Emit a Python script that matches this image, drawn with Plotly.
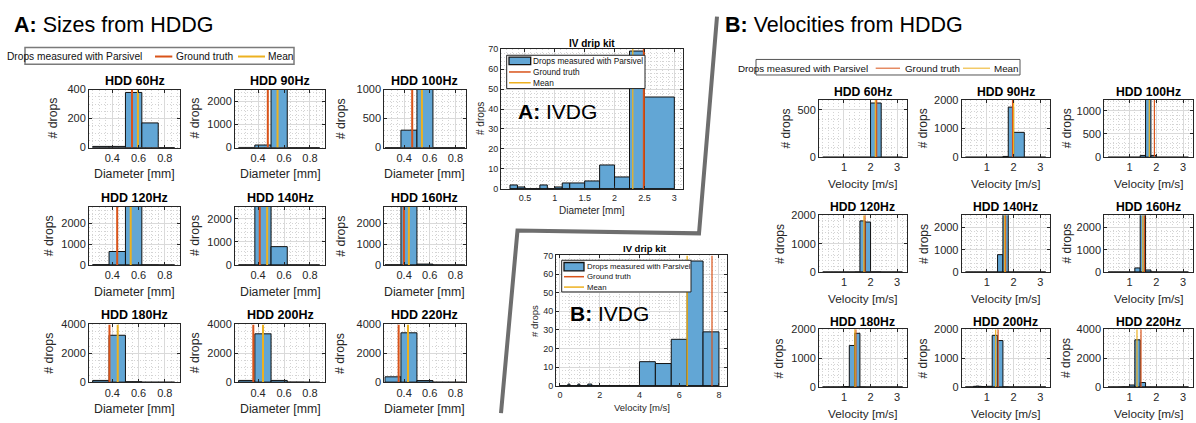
import plotly.graph_objects as go

W, H = 1196, 423
FONT = "Liberation Sans, Arial, Helvetica, sans-serif"
BAR = "rgb(98,166,213)"
RED = "#D95319"
YEL = "#EDB120"
GRID = "#DADADA"
MINOR = "#D4D4D4"
AX = "#262626"

# ---------------- DATA ----------------
hdd_names = ["HDD 60Hz", "HDD 90Hz", "HDD 100Hz", "HDD 120Hz", "HDD 140Hz",
             "HDD 160Hz", "HDD 180Hz", "HDD 200Hz", "HDD 220Hz"]

# Parsivel diameter class edges (mm) shown in the HDDG size histograms
size_edges = [0.25, 0.375, 0.5, 0.625, 0.75, 0.875]
size_60 = [8, 8, 380, 170, 0]
size_90 = [5, 110, 3200, 0, 0]
size_100 = [0, 300, 1300, 0, 0]
size_120 = [15, 650, 3100, 10, 0]
size_140 = [5, 3000, 800, 5, 0]
size_160 = [10, 3100, 50, 0, 0]
size_180 = [130, 3250, 40, 0, 0]
size_200 = [130, 3350, 130, 10, 0]
size_220 = [380, 3420, 120, 0, 0]
size_truth = [0.55, 0.475, 0.463, 0.437, 0.413, 0.398, 0.378, 0.363, 0.357]
size_mean = [0.595, 0.55, 0.539, 0.54, 0.47, 0.437, 0.441, 0.438, 0.43]

# Parsivel velocity class edges (m/s) shown in the HDDG velocity histograms
vel_edges = [0.2, 0.3, 0.4, 0.5, 0.6, 0.7, 0.8, 0.9, 1.0, 1.2, 1.4, 1.6, 1.8, 2.0, 2.4, 2.8, 3.2]
vel_60 = [0, 0, 0, 0, 0, 0, 0, 0, 0, 0, 0, 0, 0, 570, 0, 0]
vel_90 = [0, 0, 0, 0, 0, 0, 0, 0, 0, 0, 0, 30, 1750, 870, 0, 0]
vel_100 = [0, 0, 0, 0, 0, 0, 0, 0, 0, 0, 40, 1500, 40, 0, 0, 0]
vel_120 = [0, 0, 0, 0, 0, 0, 0, 0, 0, 0, 8, 1800, 1760, 10, 0, 0]
vel_140 = [0, 0, 0, 0, 0, 0, 0, 0, 0, 0, 780, 3000, 0, 0, 0, 0]
vel_160 = [0, 0, 0, 0, 0, 0, 0, 0, 0, 190, 3000, 100, 10, 0, 0, 0]
vel_180 = [0, 0, 0, 0, 0, 0, 0, 10, 20, 1440, 1860, 5, 0, 0, 0, 0]
vel_200 = [0, 0, 0, 30, 40, 30, 20, 20, 30, 1790, 1610, 10, 0, 0, 0, 0]
vel_220 = [0, 0, 0, 0, 10, 20, 20, 20, 150, 3270, 320, 0, 0, 0, 0, 0]
vel_truth = [2.23, 1.96, 1.93, 1.79, 1.70, 1.56, 1.45, 1.42, 1.43]
vel_mean = [2.18, 2.0, 1.74, 1.75, 1.67, 1.50, 1.41, 1.33, 1.28]

# IV drip kit
iv_size_edges = [0.25, 0.375, 0.5, 0.625, 0.75, 0.875, 1.0, 1.125, 1.25, 1.5, 1.75, 2.0, 2.25, 2.5, 3.0]
iv_size_counts = [2, 1, 0, 0, 2, 0, 1, 3, 3, 4, 12, 6, 69, 46]
iv_size_truth = 2.49
iv_size_mean = 2.305
iv_vel_edges = [0.0, 0.1, 0.2, 0.3, 0.4, 0.5, 0.6, 0.7, 0.8, 0.9, 1.0, 1.2, 1.4, 1.6, 1.8, 2.0,
                2.4, 2.8, 3.2, 3.6, 4.0, 4.8, 5.6, 6.4, 7.2, 8.0]
iv_vel_counts = [0, 0, 0, 0, 1, 0, 0, 0, 0, 1, 0, 0, 1, 0, 0, 0, 0, 0, 0, 0, 13, 12, 25, 67, 29]
iv_vel_truth = 7.65
iv_vel_mean = 6.4

size_counts = [size_60, size_90, size_100, size_120, size_140, size_160, size_180, size_200, size_220]
vel_counts = [vel_60, vel_90, vel_100, vel_120, vel_140, vel_160, vel_180, vel_200, vel_220]

# ---------------- LAYOUT CONFIG (pixels) ----------------
A_cols = [(89, 180), (235, 325), (384.3, 465.6)]
A_rows = [(86, 145.7), (206.7, 266.7), (327.7, 387.3)]
A_xr = [[0.222, 0.916], [0.222, 0.916], [0.245, 0.88]]
A_ylim = [400, 2520, 1000, 2780, 2520, 2780, 4000, 4000, 4000]
A_ydt = [200, 1000, 500, 1000, 1000, 1000, 2000, 2000, 2000]
A_title_y = [76.7, 197.7, 317.7]
A_xlab_y = [173.3, 294, 415]
A_ylab_x = [[53, 195, 340.7], [49.3, 195, 340.7], [49.3, 195, 340.7]]

B_cols = [(819, 906.7), (961.7, 1050), (1104.3, 1192.7)]
B_rows = [(96.7, 155.7), (215.3, 274), (332.7, 392.3)]
B_xr = [0.06, 3.36]
B_ylim = [602, 2000, 1230, 2000, 2530, 2530, 2000, 2000, 4000]
B_ydt = [500, 1000, 500, 1000, 1000, 1000, 1000, 1000, 2000]
B_title_y = [88.3, 206.7, 325.7]
B_xlab_y = [183.3, 301.5, 419.5]
B_ylab_x = [[786, 922.7, 1066.7], [779.3, 923.3, 1066.7], [779.3, 923.3, 1066.7]]


def px(x):
    return x / W


def py(y):
    return 1 - y / H


fig = go.Figure()
layout = dict(width=W, height=H, autosize=False, margin=dict(l=0, r=0, t=0, b=0),
              paper_bgcolor="white", plot_bgcolor="white", showlegend=False,
              barmode="overlay", font=dict(family=FONT, color=AX))
annotations = []
shapes = []

minor_of = {200: 50, 500: 100, 1000: 200, 2000: 500, 10: 2, 0.2: 0.05, 1: 0.2, 0.5: 0.1, 2: 0.5}


def axis_common(dtick, tfs):
    return dict(showline=True, linecolor=AX, linewidth=1, mirror="ticks", ticks="inside",
                ticklen=3, tickcolor=AX, tickwidth=1, dtick=dtick, tick0=0, showgrid=True,
                gridcolor=GRID, gridwidth=1, zeroline=False, fixedrange=True,
                tickfont=dict(family=FONT, size=tfs, color=AX),
                minor=dict(dtick=minor_of[dtick], tick0=0, showgrid=True, gridcolor=MINOR,
                           griddash="1px,2px", gridwidth=1, ticks=""))


def add_hist(idx, edges, counts, truth, mean, xbox, ybox, xr, yr, xdt, ydt, tfs,
             gt_w, mn_w, bar_lw=1.0):
    xa = "x" if idx == 1 else f"x{idx}"
    ya = "y" if idx == 1 else f"y{idx}"
    centers = [(edges[i] + edges[i + 1]) / 2 for i in range(len(counts))]
    widths = [edges[i + 1] - edges[i] for i in range(len(counts))]
    fig.add_trace(go.Scatter(x=[edges[0], edges[-1]], y=[0, 0], mode="lines",
                             line=dict(color="#111", width=bar_lw + 0.3), xaxis=xa, yaxis=ya,
                             hoverinfo="skip"))
    fig.add_trace(go.Bar(x=centers, y=counts, width=widths, xaxis=xa, yaxis=ya,
                         marker=dict(color=BAR, line=dict(color="#111", width=bar_lw))))
    fig.add_trace(go.Scatter(x=[truth, truth], y=[0, yr[1]], mode="lines",
                             line=dict(color=RED, width=gt_w), xaxis=xa, yaxis=ya))
    fig.add_trace(go.Scatter(x=[mean, mean], y=[0, yr[1]], mode="lines",
                             line=dict(color=YEL, width=mn_w), xaxis=xa, yaxis=ya))
    kx = "xaxis" if idx == 1 else f"xaxis{idx}"
    ky = "yaxis" if idx == 1 else f"yaxis{idx}"
    xd = axis_common(xdt, tfs)
    xd.update(domain=[px(xbox[0]), px(xbox[1])], range=xr, anchor=ya)
    yd = axis_common(ydt, tfs)
    yd.update(domain=[py(ybox[1]), py(ybox[0])], range=yr, anchor=xa)
    layout[kx] = xd
    layout[ky] = yd


def text(x, y, s, size, bold=False, color="black", angle=0, xanchor="center"):
    annotations.append(dict(x=px(x), y=py(y), xref="paper", yref="paper", text=(f"<b>{s}</b>" if bold else s),
                            showarrow=False, xanchor=xanchor, yanchor="middle", textangle=angle,
                            font=dict(family=FONT, size=size, color=color)))


idx = 1
# ---- Panel A: sizes ----
for k in range(9):
    r, c = divmod(k, 3)
    add_hist(idx, size_edges, size_counts[k], size_truth[k], size_mean[k],
             A_cols[c], A_rows[r], A_xr[c], [0, A_ylim[k]], 0.2, A_ydt[k], 11, 2, 2)
    xc = (A_cols[c][0] + A_cols[c][1]) / 2
    yc = (A_rows[r][0] + A_rows[r][1]) / 2
    text(xc, A_title_y[r], hdd_names[k], 12.5, bold=True)
    text(xc, A_xlab_y[r], "Diameter [mm]", 12.3, color=AX)
    text(A_ylab_x[r][c], yc, "# drops", 12.3, color=AX, angle=-90)
    idx += 1

# ---- Panel B: velocities ----
for k in range(9):
    r, c = divmod(k, 3)
    add_hist(idx, vel_edges, vel_counts[k], vel_truth[k], vel_mean[k],
             B_cols[c], B_rows[r], B_xr, [0, B_ylim[k]], 1, B_ydt[k], 11, 1.2, 1.2)
    xc = (B_cols[c][0] + B_cols[c][1]) / 2
    yc = (B_rows[r][0] + B_rows[r][1]) / 2
    text(xc, B_title_y[r], hdd_names[k], 12.2, bold=True)
    text(xc, B_xlab_y[r], "Velocity [m/s]", 11.8, color=AX)
    text(B_ylab_x[r][c], yc, "# drops", 12, color=AX, angle=-90)
    idx += 1

# ---- IV drip kit: sizes ----
add_hist(idx, iv_size_edges, iv_size_counts, iv_size_truth, iv_size_mean,
         (501, 683.3), (44.3, 188.3), [0.1, 3.15], [0, 70], 0.5, 10, 9, 2, 1.3)
idx += 1
text(592, 38.3, "IV drip kit", 10, bold=True)
text(480, 116.3, "# drops", 10, color=AX, angle=-90)
text(592, 210.7, "Diameter [mm]", 10, color=AX)

# ---- IV drip kit: velocities ----
add_hist(idx, iv_vel_edges, iv_vel_counts, iv_vel_truth, iv_vel_mean,
         (556, 727.3), (256.7, 391), [-0.2, 8.42], [0, 70], 2, 10, 9, 1.2, 1.4)
idx += 1
text(644.5, 249.3, "IV drip kit", 9.5, bold=True)
text(534.3, 323.8, "# drops", 9.5, color=AX, angle=-90)
text(641.7, 413.3, "Velocity [m/s]", 9.5, color=AX)


def rect(x0, y0, x1, y1, line_color, lw, fill="white"):
    shapes.append(dict(type="rect", xref="paper", yref="paper", x0=px(x0), x1=px(x1),
                       y0=py(y1), y1=py(y0), line=dict(color=line_color, width=lw),
                       fillcolor=fill, layer="above"))


def seg(x0, y0, x1, y1, color, lw):
    shapes.append(dict(type="line", xref="paper", yref="paper", x0=px(x0), x1=px(x1),
                       y0=py(y0), y1=py(y1), line=dict(color=color, width=lw), layer="above"))


# In-axes legends for IV plots
def iv_legend(bx0, by0, bx1, by1, sw, tx, ys, fs):
    rect(bx0, by0, bx1, by1, "#222", 1)
    rect(sw[0], sw[1], sw[2], sw[3], "#111", 1.3, fill=BAR)
    seg(sw[0], ys[1], sw[2], ys[1], RED, 1.5)
    seg(sw[0], ys[2], sw[2], ys[2], YEL, 1.5)
    for s, yy in zip(["Drops measured with Parsivel", "Ground truth", "Mean"], ys):
        text(tx, yy, s, fs, color="#111", xanchor="left")


iv_legend(506.7, 50.7, 645, 85, (509, 52.7, 530.7, 60.3), 531.2, [56.6, 67.9, 79], 8.3)
iv_legend(561.7, 261.7, 691, 294.3, (564, 264, 584, 272.7), 584.6, [268.3, 278.6, 289.3], 7.8)

# Big overlay labels
annotations.append(dict(x=px(516), y=py(109), xref="paper", yref="paper", text="<b>A:</b> IVDG",
                        showarrow=False, xanchor="left", yanchor="middle",
                        font=dict(family=FONT, size=21, color="black")))
annotations.append(dict(x=px(567.7), y=py(316), xref="paper", yref="paper", text="<b>B:</b> IVDG",
                        showarrow=False, xanchor="left", yanchor="middle",
                        font=dict(family=FONT, size=21, color="black")))

# Section headings
annotations.append(dict(x=px(11.5), y=py(20), xref="paper", yref="paper",
                        text="<b>A:</b> Sizes from HDDG", showarrow=False, xanchor="left",
                        yanchor="middle", font=dict(family=FONT, size=21.5, color="black")))
annotations.append(dict(x=px(722.5), y=py(20), xref="paper", yref="paper",
                        text="<b>B:</b> Velocities from HDDG", showarrow=False, xanchor="left",
                        yanchor="middle", font=dict(family=FONT, size=21.5, color="black")))

# Shared legends at top of each section
rect(25, 42.7, 294, 60, "#7a7a7a", 1.5)
text(5, 52, "Drops measured with Parsivel", 10.2, color="#111", xanchor="left")
seg(155, 52, 172.3, 52, RED, 2)
text(174, 52, "Ground truth", 10.2, color="#111", xanchor="left")
seg(238, 52, 265, 52, YEL, 2)
text(265.7, 52, "Mean", 10.2, color="#111", xanchor="left")

rect(756, 55, 1020, 71, "#555", 1)
text(736, 64, "Drops measured with Parsivel", 9.8, color="#111", xanchor="left")
seg(875.7, 64, 900, 64, RED, 1)
text(902.5, 64, "Ground truth", 9.8, color="#111", xanchor="left")
seg(963, 64, 990, 64, YEL, 1)
text(991.5, 64, "Mean", 9.8, color="#111", xanchor="left")

# Grey separator between the sections
pts = [(717, 11), (699, 234), (517.5, 231), (501, 419)]
path = "M " + " L ".join(f"{px(x):.5f},{py(y):.5f}" for x, y in pts)
shapes.append(dict(type="path", xref="paper", yref="paper", path=path,
                   line=dict(color="#6e6e6e", width=4), layer="above"))

layout["annotations"] = annotations
layout["shapes"] = shapes
fig.update_layout(**layout)
fig.update_traces(hoverinfo="skip", selector=dict(type="bar"))
fig.write_html("out.html", config={"displayModeBar": False})
